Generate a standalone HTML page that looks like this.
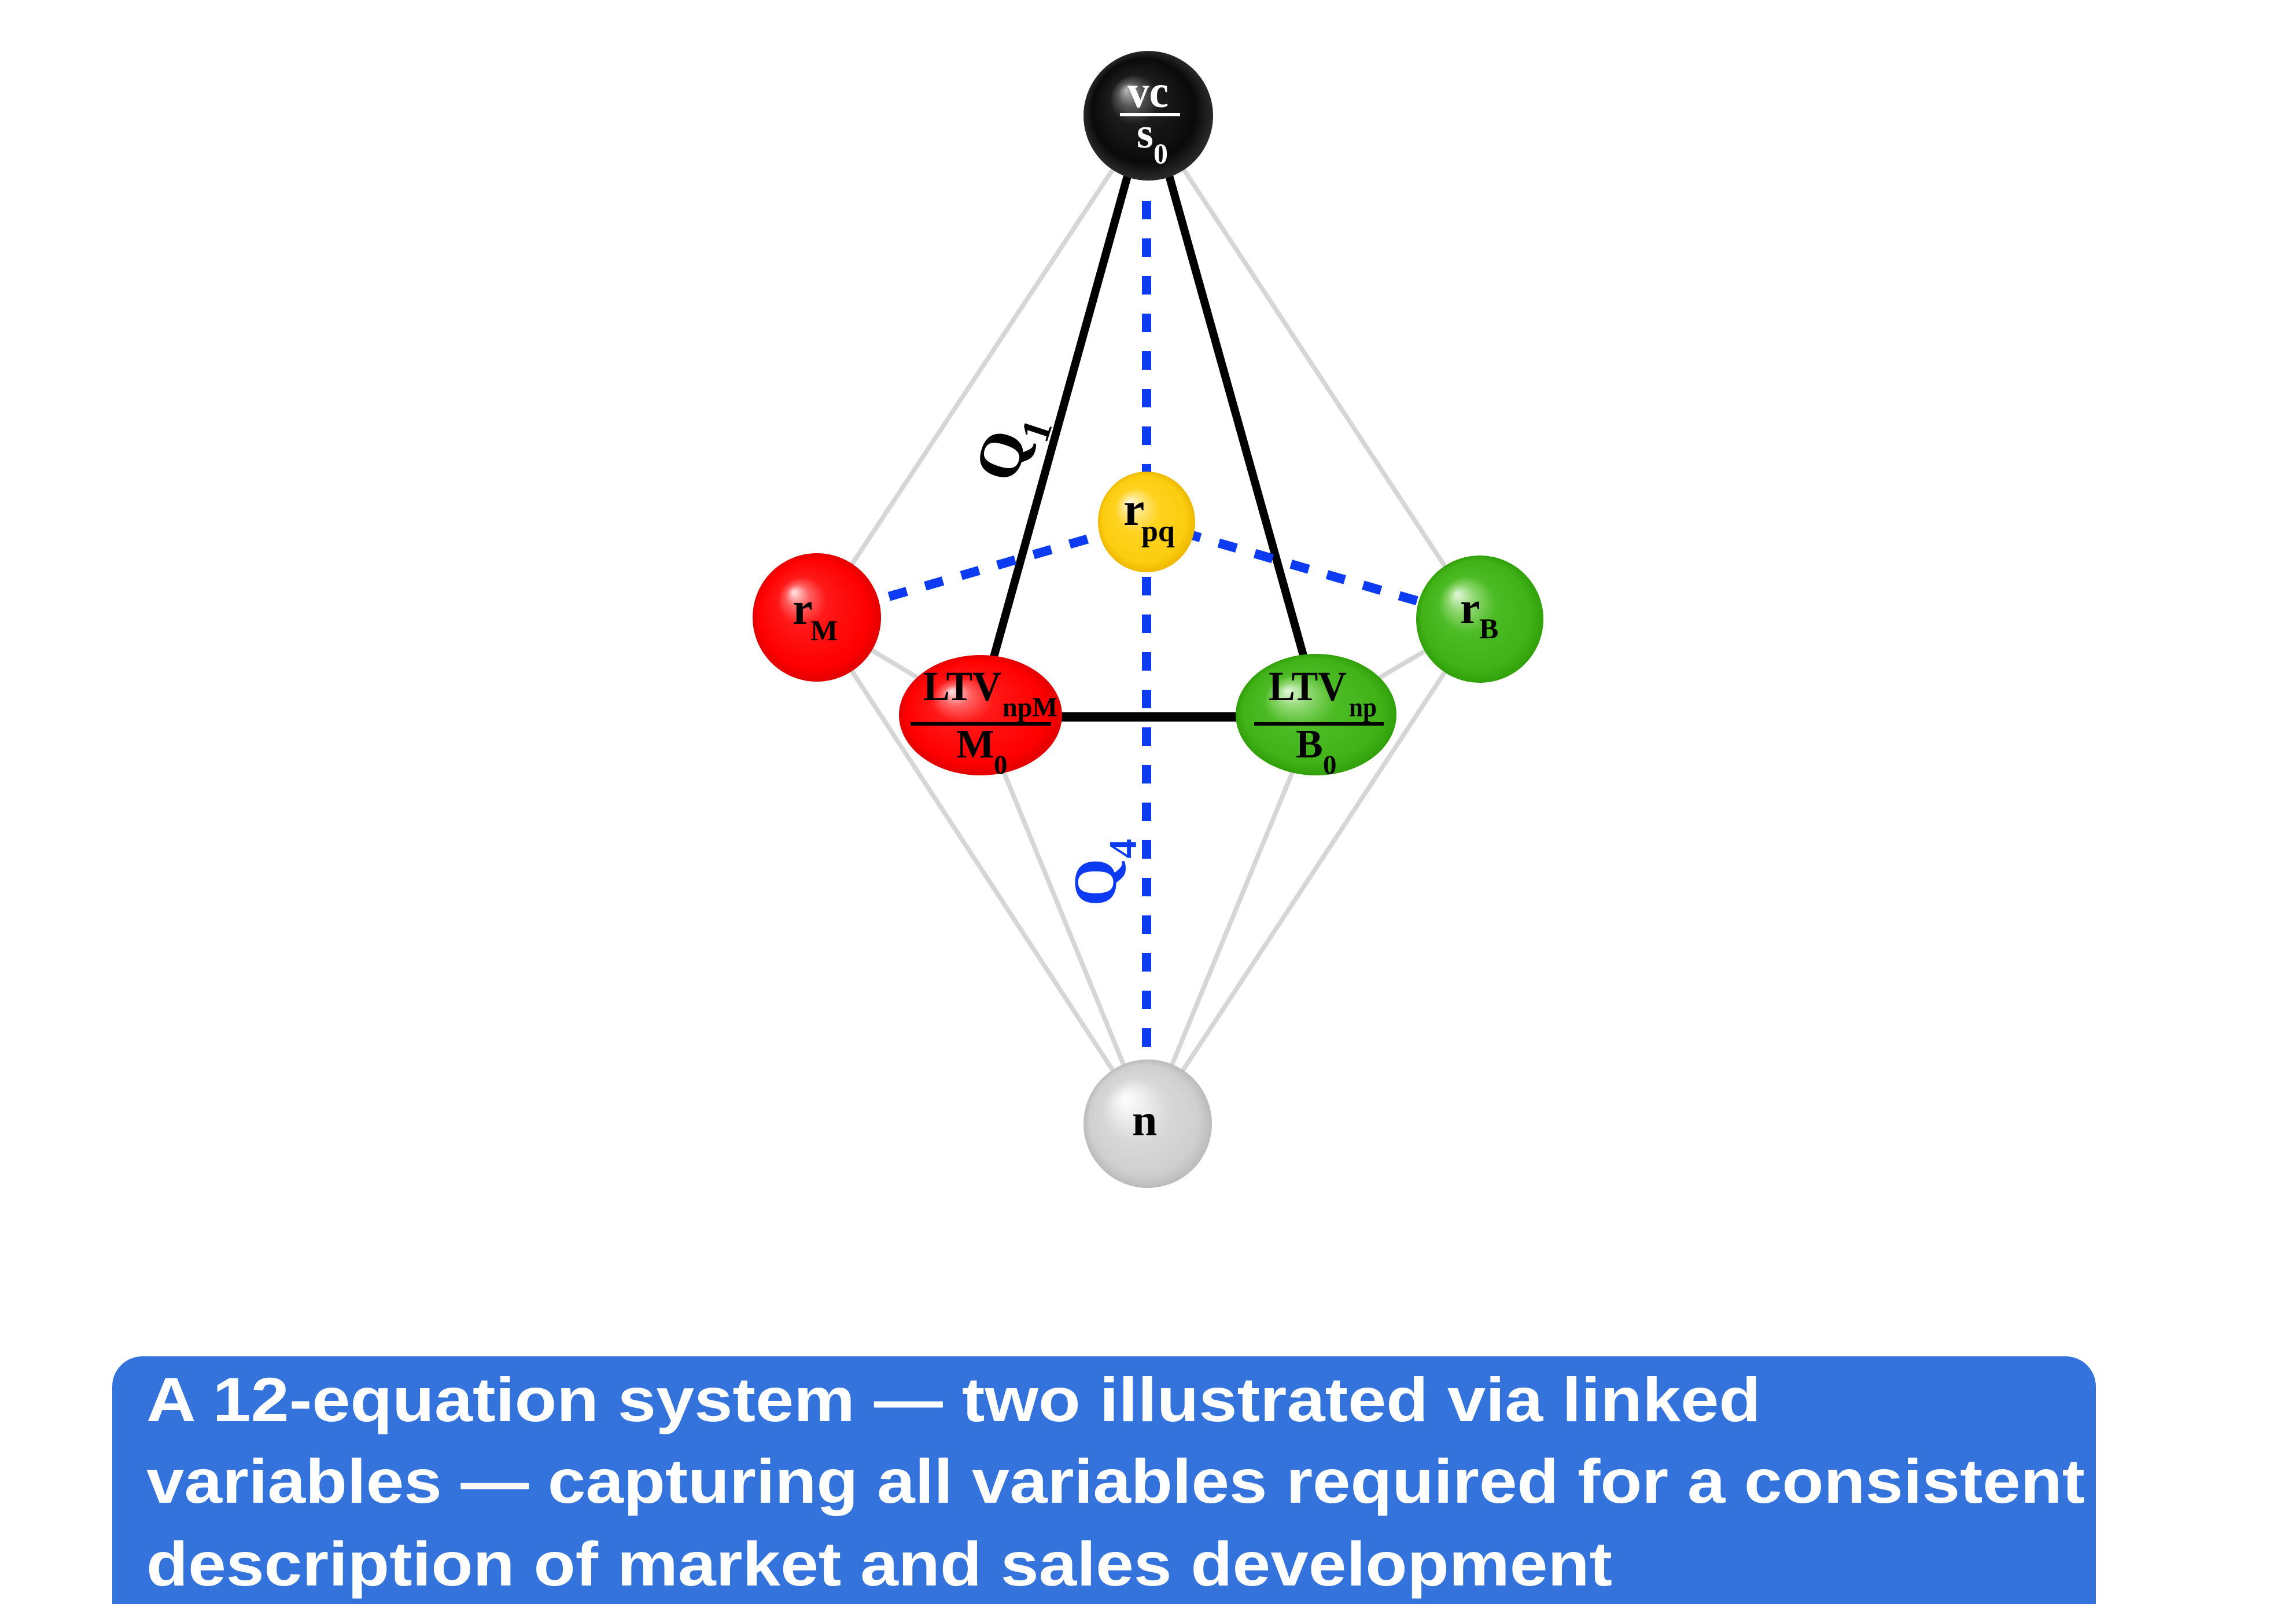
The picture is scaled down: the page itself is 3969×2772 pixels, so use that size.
<!DOCTYPE html>
<html><head><meta charset="utf-8"><style>
html,body{margin:0;padding:0;background:#fff;}
svg{display:block;}
.s{font-family:"Liberation Serif",serif;font-weight:bold;}
.c{font-family:"Liberation Sans",sans-serif;font-weight:bold;fill:#fff;font-size:108px;}
</style></head><body>
<svg width="3969" height="2772" viewBox="0 0 3969 2772" xmlns="http://www.w3.org/2000/svg">
<defs>
<radialGradient id="gR" cx="0.5" cy="0.5" r="0.5" fx="0.32" fy="0.3">
<stop offset="0" stop-color="#ffe6e6"/><stop offset="0.18" stop-color="#ff6060"/><stop offset="0.38" stop-color="#ff1818"/><stop offset="0.85" stop-color="#ff0000"/><stop offset="1" stop-color="#e20000"/>
</radialGradient>
<radialGradient id="gG" cx="0.5" cy="0.5" r="0.5" fx="0.32" fy="0.3">
<stop offset="0" stop-color="#e4f8dc"/><stop offset="0.2" stop-color="#90d872"/><stop offset="0.45" stop-color="#4cbb24"/><stop offset="0.85" stop-color="#40b318"/><stop offset="1" stop-color="#31a00a"/>
</radialGradient>
<radialGradient id="gY" cx="0.5" cy="0.5" r="0.5" fx="0.32" fy="0.3">
<stop offset="0" stop-color="#fffbe4"/><stop offset="0.2" stop-color="#ffe680"/><stop offset="0.45" stop-color="#ffd21e"/><stop offset="0.85" stop-color="#fccd10"/><stop offset="1" stop-color="#eeb800"/>
</radialGradient>
<radialGradient id="gW" cx="0.5" cy="0.5" r="0.5" fx="0.32" fy="0.3">
<stop offset="0" stop-color="#ffffff"/><stop offset="0.25" stop-color="#ececec"/><stop offset="0.5" stop-color="#d8d8d8"/><stop offset="0.85" stop-color="#cfcfcf"/><stop offset="1" stop-color="#bbbbbb"/>
</radialGradient>
<radialGradient id="gK" cx="0.5" cy="0.5" r="0.5" fx="0.33" fy="0.3">
<stop offset="0" stop-color="#b8b8b8"/><stop offset="0.18" stop-color="#5a5a5a"/><stop offset="0.38" stop-color="#1c1c1c"/><stop offset="0.8" stop-color="#0a0a0a"/><stop offset="1" stop-color="#2a2a2a"/>
</radialGradient>
</defs>

<!-- gray connectors -->
<g stroke="#d6d6d6" stroke-width="8" fill="none">
<line x1="1985" y1="200" x2="1412" y2="1067"/>
<line x1="1985" y1="200" x2="2558" y2="1070"/>
<line x1="1412" y1="1067" x2="1984" y2="1942"/>
<line x1="2558" y1="1070" x2="1984" y2="1942"/>
<line x1="1412" y1="1067" x2="1695" y2="1236"/>
<line x1="2558" y1="1070" x2="2275" y2="1235"/>
<line x1="1695" y1="1236" x2="1984" y2="1942"/>
<line x1="2275" y1="1235" x2="1984" y2="1942"/>
</g>

<!-- black connectors -->
<g stroke="#000" fill="none">
<line x1="1978" y1="200" x2="1690" y2="1236" stroke-width="14"/>
<line x1="1992" y1="200" x2="2282" y2="1236" stroke-width="14"/>
<line x1="1695" y1="1239" x2="2275" y2="1239" stroke-width="16"/>
</g>

<!-- blue dashed -->
<g stroke="#0d3bf2" stroke-width="16" fill="none" stroke-dasharray="32 33">
<line x1="1982" y1="347" x2="1982" y2="1810"/>
<line x1="1412" y1="1067" x2="1982" y2="902"/>
<line x1="1982" y1="902" x2="2558" y2="1070"/>
</g>

<!-- Q labels -->
<text class="s" font-size="108" fill="#000" transform="translate(1752,838) rotate(-72)">Q<tspan font-size="70" dy="32">1</tspan></text>
<text class="s" font-size="106" fill="#0d3bf2" transform="translate(1929,1566) rotate(-90)">Q<tspan font-size="68" dy="35">4</tspan></text>

<!-- spheres -->
<circle cx="1985" cy="200" r="112" fill="url(#gK)"/>
<ellipse cx="1982" cy="902" rx="84" ry="87" fill="url(#gY)"/>
<circle cx="1412" cy="1067" r="111" fill="url(#gR)"/>
<circle cx="2558" cy="1070" r="110" fill="url(#gG)"/>
<ellipse cx="1695" cy="1236" rx="141" ry="104" fill="url(#gR)"/>
<ellipse cx="2275" cy="1235" rx="139" ry="105" fill="url(#gG)"/>
<circle cx="1984" cy="1942" r="111" fill="url(#gW)"/>

<!-- top sphere text -->
<text class="s" font-size="80" fill="#fff" x="1949" y="185" textLength="71" lengthAdjust="spacingAndGlyphs">vc</text>
<rect x="1936" y="195" width="104" height="6" fill="#fff"/>
<text class="s" font-size="74" fill="#fff" x="1965" y="255">s</text>
<text class="s" font-size="50" fill="#fff" x="1994" y="282">0</text>

<!-- rpq -->
<text class="s" font-size="82" fill="#000" x="1942" y="907">r</text>
<text class="s" font-size="52" fill="#000" x="1973" y="935">pq</text>

<!-- rM -->
<text class="s" font-size="78" fill="#000" x="1370" y="1078">r</text>
<text class="s" font-size="50" fill="#000" x="1401" y="1106">M</text>

<!-- rB -->
<text class="s" font-size="78" fill="#000" x="2524" y="1077">r</text>
<text class="s" font-size="50" fill="#000" x="2557" y="1103">B</text>

<!-- LTV M -->
<text class="s" font-size="72" fill="#000" x="1596" y="1210" textLength="135" lengthAdjust="spacingAndGlyphs">LTV</text>
<text class="s" font-size="48" fill="#000" x="1733" y="1238" textLength="95" lengthAdjust="spacingAndGlyphs">npM</text>
<rect x="1574" y="1248" width="243" height="6" fill="#000"/>
<text class="s" font-size="70" fill="#000" x="1653" y="1309">M</text>
<text class="s" font-size="47" fill="#000" x="1718" y="1337">0</text>

<!-- LTV B -->
<text class="s" font-size="72" fill="#000" x="2193" y="1210" textLength="135" lengthAdjust="spacingAndGlyphs">LTV</text>
<text class="s" font-size="48" fill="#000" x="2332" y="1238" textLength="48" lengthAdjust="spacingAndGlyphs">np</text>
<rect x="2168" y="1248" width="224" height="6" fill="#000"/>
<text class="s" font-size="70" fill="#000" x="2240" y="1309">B</text>
<text class="s" font-size="47" fill="#000" x="2287" y="1337">0</text>

<!-- n -->
<text class="s" font-size="78" fill="#000" x="1957" y="1962">n</text>

<!-- caption -->
<rect x="194" y="2344" width="3429" height="520" rx="52" ry="52" fill="#3473dc"/>
<text class="c" x="253" y="2456" textLength="2791" lengthAdjust="spacingAndGlyphs">A 12-equation system — two illustrated via linked</text>
<text class="c" x="253" y="2597" textLength="3351" lengthAdjust="spacingAndGlyphs">variables — capturing all variables required for a consistent</text>
<text class="c" x="253" y="2740" textLength="2534" lengthAdjust="spacingAndGlyphs">description of market and sales development</text>
</svg>
</body></html>
